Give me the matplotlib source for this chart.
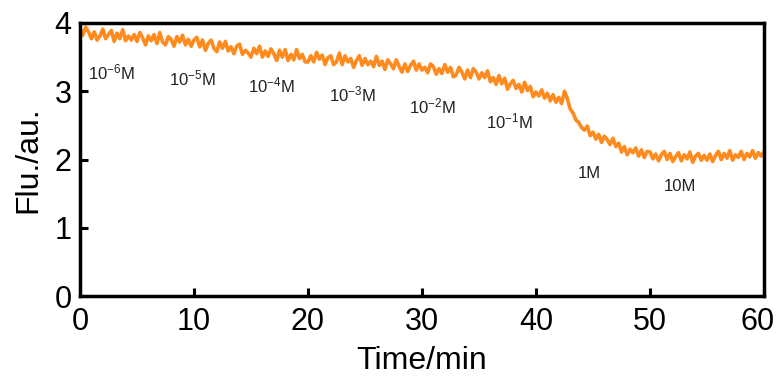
import numpy as np
import matplotlib
matplotlib.use("Agg")
import matplotlib.pyplot as plt
import matplotlib.transforms as mtransforms

plt.rcParams['font.family'] = ['Liberation Sans', 'DejaVu Sans']
plt.rcParams['mathtext.default'] = 'regular'

# time axis (min), sampled every 0.25 min
time = np.arange(0, 60.001, 0.25)

flu = [
    # 0-5
    3.92, 3.82, 3.94, 3.87, 3.77, 3.87, 3.75, 3.81, 3.91, 3.77,
    3.83, 3.89, 3.73, 3.85, 3.77, 3.90, 3.74, 3.81, 3.75, 3.83,
    # 5-10
    3.73, 3.86, 3.78, 3.68, 3.81, 3.74, 3.83, 3.70, 3.86, 3.72,
    3.68, 3.80, 3.76, 3.66, 3.80, 3.72, 3.82, 3.68, 3.76, 3.66,
    # 10-15
    3.75, 3.79, 3.65, 3.75, 3.60, 3.70, 3.75, 3.63, 3.58, 3.72,
    3.63, 3.73, 3.59, 3.65, 3.55, 3.66, 3.69, 3.54, 3.60, 3.56,
    # 15-20
    3.50, 3.63, 3.55, 3.66, 3.50, 3.59, 3.51, 3.62, 3.55, 3.45,
    3.60, 3.50, 3.61, 3.45, 3.54, 3.46, 3.61, 3.48, 3.54, 3.43,
    # 20-25
    3.43, 3.52, 3.43, 3.57, 3.47, 3.53, 3.39, 3.49, 3.52, 3.39,
    3.43, 3.56, 3.39, 3.52, 3.43, 3.48, 3.35, 3.45, 3.52, 3.38,
    # 25-30
    3.48, 3.39, 3.44, 3.36, 3.51, 3.38, 3.44, 3.32, 3.46, 3.40,
    3.33, 3.46, 3.36, 3.28, 3.40, 3.29, 3.38, 3.44, 3.31, 3.40,
    # 30-35
    3.31, 3.35, 3.27, 3.40, 3.36, 3.25, 3.33, 3.26, 3.39, 3.28,
    3.35, 3.21, 3.24, 3.35, 3.28, 3.18, 3.31, 3.20, 3.33, 3.28,
    # 35-40
    3.18, 3.27, 3.20, 3.30, 3.14, 3.20, 3.10, 3.23, 3.11, 3.19,
    3.03, 3.11, 3.16, 3.04, 3.10, 2.99, 3.13, 3.01, 3.07, 2.92,
    # 40-45
    2.99, 2.93, 3.02, 2.90, 2.97, 2.86, 2.95, 2.84, 2.91, 2.82,
    3.00, 2.89, 2.74, 2.68, 2.58, 2.54, 2.47, 2.43, 2.49, 2.35,
    # 45-50
    2.40, 2.30, 2.37, 2.25, 2.34, 2.29, 2.22, 2.31, 2.19, 2.24,
    2.11, 2.19, 2.07, 2.15, 2.10, 2.17, 2.05, 2.14, 2.03, 2.12,
    # 50-55
    2.11, 2.01, 2.08, 1.98, 2.07, 2.12, 2.00, 2.09, 1.97, 2.04,
    2.10, 1.98, 2.07, 2.01, 2.11, 1.96, 2.05, 2.09, 1.99, 2.06,
    # 55-60
    1.99, 2.08, 1.97, 2.06, 2.12, 2.00, 2.09, 2.02, 2.13, 1.99,
    2.07, 2.03, 2.12, 2.00, 2.09, 2.04, 2.13, 2.02, 2.10, 2.05,
    2.11,
]

conc_labels = [r'10$^{-6}$M', r'10$^{-5}$M', r'10$^{-4}$M', r'10$^{-3}$M',
               r'10$^{-2}$M', r'10$^{-1}$M', '1M', '10M']
label_t = [2.8, 9.9, 16.8, 23.9, 30.9, 37.7, 44.7, 52.6]
label_y = [3.28, 3.19, 3.08, 2.96, 2.78, 2.56, 1.80, 1.60]

xticks = [0, 10, 20, 30, 40, 50, 60]
yticks = [0, 1, 2, 3, 4]

fig = plt.figure(figsize=(7.78, 3.83), dpi=100)
ax = fig.add_axes([0.1028, 0.227, 0.8792, 0.713])

ax.plot(time, flu, color='#ff8a1e', lw=2.6)

for lab, t, y in zip(conc_labels, label_t, label_y):
    ax.text(t, y, lab, ha='center', va='center', fontsize=12, color='#222222')

ax.set_xlim(0, 60)
ax.set_ylim(0, 4)
ax.set_xticks(xticks)
ax.set_yticks(yticks)
ax.tick_params(axis='x', direction='in', length=6, width=2.2, labelsize=22, pad=8)
ax.tick_params(axis='y', direction='in', length=6, width=2.2, labelsize=22, pad=6)
for s in ax.spines.values():
    s.set_linewidth(2.5)

# nudge the last x tick label so it stays inside the canvas
last = ax.get_xticklabels()[-1]
last.set_transform(last.get_transform() +
                   mtransforms.ScaledTranslation(-6 / 100, 0, fig.dpi_scale_trans))

ax.set_xlabel('Time/min', fontsize=23, labelpad=6)
ax.set_ylabel('Flu./au.', fontsize=23, labelpad=8)

fig.savefig('out.png', dpi=100)
